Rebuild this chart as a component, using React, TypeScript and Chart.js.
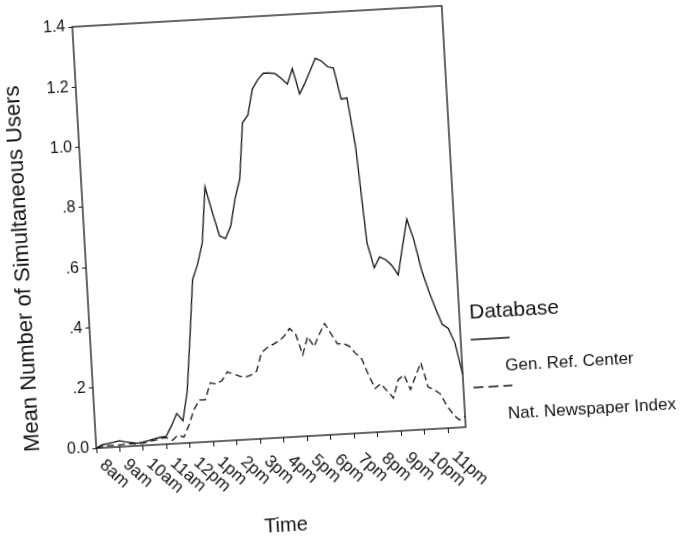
import React, { useEffect, useRef } from 'react';
import { Chart, registerables } from 'chart.js';

Chart.register(...registerables);

// ---- data ----
const hourValues = [8, 9, 10, 11, 12, 13, 14, 15, 16, 17, 18, 19, 20, 21, 22, 23];
const hourLabels = ['8am', '9am', '10am', '11am', '12pm', '1pm', '2pm', '3pm', '4pm', '5pm', '6pm', '7pm', '8pm', '9pm', '10pm', '11pm'];
const quarterMinutes = ['00', '15', '30', '45'];
const slotLabels = hourValues.flatMap((h) => quarterMinutes.map((m) => `${h}:${m}`));

const seriesNames = ['Gen. Ref. Center', 'Nat. Newspaper Index'];

const genRefCenter = [
  0.0, 0.01, 0.013, 0.016, 0.02, 0.015, 0.012, 0.009,
  0.011, 0.015, 0.02, 0.024, 0.026, 0.06, 0.1, 0.075,
  0.17, 0.35, 0.54, 0.59, 0.66, 0.845, 0.76, 0.68,
  0.67, 0.71, 0.8, 0.865, 1.05, 1.075, 1.16, 1.19,
  1.21, 1.21, 1.207, 1.19, 1.17, 1.22, 1.135, 1.17,
  1.21, 1.25, 1.24, 1.22, 1.214, 1.11, 1.113, 0.95,
  0.63, 0.545, 0.58, 0.57, 0.55, 0.517, 0.61, 0.7,
  0.63, 0.53, 0.46, 0.4, 0.345, 0.33, 0.28, 0.175,
];

const natNewspaperIndex = [
  0.0, 0.004, 0.006, 0.006, 0.006, 0.008, 0.008, 0.006,
  0.008, 0.012, 0.015, 0.02, 0.022, 0.012, 0.028, 0.02,
  0.06, 0.11, 0.14, 0.14, 0.195, 0.19, 0.2, 0.228,
  0.22, 0.212, 0.207, 0.213, 0.225, 0.285, 0.3, 0.31,
  0.32, 0.335, 0.36, 0.34, 0.27, 0.33, 0.295, 0.335,
  0.37, 0.335, 0.3, 0.3, 0.29, 0.265, 0.245, 0.19,
  0.145, 0.16, 0.135, 0.11, 0.17, 0.185, 0.135, 0.18,
  0.222, 0.14, 0.13, 0.115, 0.075, 0.045, 0.025, 0.035,
];

const yMin = 0;
const yMax = 1.4;
const yStep = 0.2;

const legendTitle = 'Database';
const xTitle = 'Time';
const yTitle = 'Mean Number of Simultaneous Users';

const INK = '#141414';
const FONT = '"Liberation Sans", Arial, Helvetica, sans-serif';

const boxPlugin = {
  id: 'plotBox',
  afterDatasetsDraw(chart: any) {
    const { ctx, chartArea: a } = chart;
    ctx.save();
    ctx.strokeStyle = INK;
    ctx.lineWidth = 1.3;
    ctx.strokeRect(a.left, a.top, a.right - a.left, a.bottom - a.top);
    ctx.restore();
  },
};

const xLabelPlugin = {
  id: 'xLabels',
  afterDraw(chart: any) {
    const { ctx, chartArea: a } = chart;
    const xs = chart.scales.x;
    ctx.save();
    ctx.fillStyle = INK;
    ctx.font = `17px ${FONT}`;
    ctx.textAlign = 'left';
    ctx.textBaseline = 'middle';
    for (const t of xs.ticks) {
      const px = xs.getPixelForValue(t.value);
      const frac = (px - a.left) / (a.right - a.left);
      ctx.save();
      ctx.translate(px + 5, a.bottom + 15 + 12 * frac);
      ctx.rotate(Math.PI / 4);
      ctx.fillText(hourLabels[Math.round(t.value / 4)], 0, 0);
      ctx.restore();
    }
    ctx.restore();
  },
};

const legendPlugin = {
  id: 'sideLegend',
  afterDraw(chart: any) {
    const { ctx, chartArea: a } = chart;
    const left = a.right + 10;
    ctx.save();
    ctx.fillStyle = INK;
    ctx.strokeStyle = INK;
    ctx.textAlign = 'left';
    ctx.textBaseline = 'middle';
    ctx.font = `21px ${FONT}`;
    ctx.fillText(legendTitle, left, a.bottom - 114);
    chart.data.datasets.forEach((ds: any, i: number) => {
      const ly = a.bottom - 87 + i * 48;
      ctx.save();
      ctx.lineWidth = 1.3;
      ctx.setLineDash(ds.borderDash && ds.borderDash.length ? [10, 5] : []);
      ctx.beginPath();
      ctx.moveTo(left, ly);
      ctx.lineTo(left + 39, ly);
      ctx.stroke();
      ctx.restore();
      ctx.font = `17px ${FONT}`;
      ctx.fillText(ds.label, left + 33, a.bottom - 59 + i * 48);
    });
    ctx.restore();
  },
};

function formatY(v: number) {
  if (Math.abs(v) < 1e-9) return '0.0';
  const s = Number(v).toFixed(1);
  return s.startsWith('0.') ? s.slice(1) : s;
}

export default function App() {
  const ref = useRef<HTMLCanvasElement | null>(null);

  useEffect(() => {
    if (!ref.current) return;
    Chart.defaults.font.family = FONT;
    Chart.defaults.color = INK;
    const chart = new Chart(ref.current, {
      type: 'line',
      data: {
        labels: slotLabels,
        datasets: [
          {
            label: seriesNames[0],
            data: genRefCenter,
            borderColor: INK,
            borderWidth: 1.3,
            pointRadius: 0,
            fill: false,
            tension: 0,
          },
          {
            label: seriesNames[1],
            data: natNewspaperIndex,
            borderColor: INK,
            borderWidth: 1.3,
            borderDash: [7, 4],
            pointRadius: 0,
            fill: false,
            tension: 0,
          },
        ],
      },
      options: {
        responsive: false,
        animation: false,
        events: [],
        layout: { padding: { left: 0, top: 16, right: 235, bottom: 0 } },
        plugins: {
          legend: { display: false },
          tooltip: { enabled: false },
        },
        scales: {
          x: {
            type: 'category',
            offset: false,
            border: { display: false },
            grid: { drawOnChartArea: false, drawTicks: true, tickLength: 5, color: INK, lineWidth: 1 },
            ticks: { display: false, autoSkip: false },
            afterBuildTicks: (s: any) => {
              s.ticks = s.ticks.filter((t: any) => t.value % 4 === 0);
            },
            afterFit: (s: any) => {
              s.height = 103;
            },
            title: {
              display: true,
              text: xTitle,
              color: INK,
              font: { size: 20 },
              padding: { top: 0, bottom: 3 },
            },
          },
          y: {
            min: yMin,
            max: yMax,
            border: { display: false },
            grid: { drawOnChartArea: false, drawTicks: true, tickLength: 4, color: INK, lineWidth: 1 },
            ticks: {
              stepSize: yStep,
              color: INK,
              padding: 3,
              font: { size: 16 },
              callback: (v: any) => formatY(Number(v)),
            },
            afterFit: (s: any) => {
              s.width = 84;
            },
            title: {
              display: true,
              text: yTitle,
              align: 'start',
              color: INK,
              font: { size: 22 },
              padding: { top: 8, bottom: 0 },
            },
          },
        },
      },
      plugins: [boxPlugin, xLabelPlugin, legendPlugin],
    } as any);
    return () => chart.destroy();
  }, []);

  return (
    <div
      style={{
        position: 'absolute',
        left: 0,
        top: 0,
        width: 689,
        height: 541,
        overflow: 'hidden',
        background: '#fff',
      }}
    >
      <div
        style={{
          width: 689,
          height: 541,
          transform: 'rotate(-3.26deg)',
          transformOrigin: '269px 227px',
        }}
      >
        <canvas ref={ref} width={689} height={541} style={{ display: 'block' }} />
      </div>
    </div>
  );
}
